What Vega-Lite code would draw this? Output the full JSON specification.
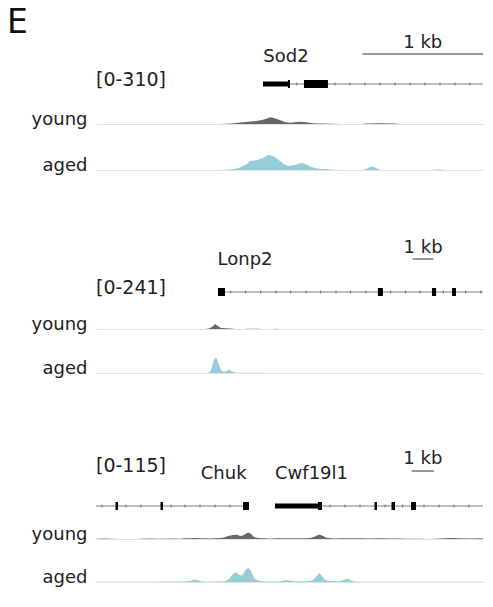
{
  "$schema": "https://vega.github.io/schema/vega-lite/v6.json",
  "padding": {"left": 7, "top": 7, "right": 10, "bottom": 10},
  "title": {"text": "E", "anchor": "start", "frame": "bounds", "fontSize": 33, "fontWeight": "normal", "font": "DejaVu Sans", "color": "#111", "dx": -24, "baseline": "alphabetic", "offset": -32},
  "config": {
    "view": {"stroke": null},
    "font": "DejaVu Sans",
    "text": {"font": "DejaVu Sans", "fontSize": 18, "color": "#222"}
  },
  "datasets": {
    "p1": [
      {"feature": "intron", "start": 1.386, "end": 3.212, "lane": "gene"},
      {"feature": "exon", "start": 1.386, "end": 1.593, "part": "UTR", "lane": "gene"},
      {"feature": "exon", "start": 1.593, "end": 1.61, "part": "CDS", "lane": "gene"},
      {"feature": "exon", "start": 1.726, "end": 1.925, "part": "CDS", "lane": "gene"},
      {"feature": "strand", "pos": 1.666, "lane": "gene"},
      {"feature": "strand", "pos": 1.983, "lane": "gene"},
      {"feature": "strand", "pos": 2.108, "lane": "gene"},
      {"feature": "strand", "pos": 2.232, "lane": "gene"},
      {"feature": "strand", "pos": 2.357, "lane": "gene"},
      {"feature": "strand", "pos": 2.481, "lane": "gene"},
      {"feature": "strand", "pos": 2.606, "lane": "gene"},
      {"feature": "strand", "pos": 2.73, "lane": "gene"},
      {"feature": "strand", "pos": 2.855, "lane": "gene"},
      {"feature": "strand", "pos": 2.979, "lane": "gene"},
      {"feature": "strand", "pos": 3.104, "lane": "gene"},
      {"feature": "scalebar", "start": 2.212, "end": 3.212, "lane": "top"},
      {"feature": "scalelabel", "pos": 2.712, "text": "1 kb", "lane": "top"},
      {"feature": "genename", "pos": 1.577, "text": "Sod2", "lane": "top"},
      {"feature": "range", "pos": 0, "text": "[0-310]", "lane": "gene"}
    ],
    "c1": [
      {"sample": "young", "pos": 1.021, "count": 0},
      {"sample": "young", "pos": 1.071, "count": 4},
      {"sample": "young", "pos": 1.129, "count": 7},
      {"sample": "young", "pos": 1.178, "count": 15},
      {"sample": "young", "pos": 1.22, "count": 21},
      {"sample": "young", "pos": 1.261, "count": 27},
      {"sample": "young", "pos": 1.303, "count": 33},
      {"sample": "young", "pos": 1.344, "count": 41},
      {"sample": "young", "pos": 1.386, "count": 53},
      {"sample": "young", "pos": 1.419, "count": 68},
      {"sample": "young", "pos": 1.444, "count": 83},
      {"sample": "young", "pos": 1.469, "count": 77},
      {"sample": "young", "pos": 1.502, "count": 62},
      {"sample": "young", "pos": 1.535, "count": 43},
      {"sample": "young", "pos": 1.568, "count": 25},
      {"sample": "young", "pos": 1.61, "count": 16},
      {"sample": "young", "pos": 1.651, "count": 22},
      {"sample": "young", "pos": 1.693, "count": 29},
      {"sample": "young", "pos": 1.726, "count": 25},
      {"sample": "young", "pos": 1.759, "count": 19},
      {"sample": "young", "pos": 1.801, "count": 9},
      {"sample": "young", "pos": 1.859, "count": 5},
      {"sample": "young", "pos": 1.967, "count": 4},
      {"sample": "young", "pos": 2.025, "count": 0},
      {"sample": "young", "pos": 2.207, "count": 0},
      {"sample": "young", "pos": 2.241, "count": 7},
      {"sample": "young", "pos": 2.357, "count": 9},
      {"sample": "young", "pos": 2.481, "count": 6},
      {"sample": "young", "pos": 2.523, "count": 0},
      {"sample": "aged", "pos": 1.021, "count": 0},
      {"sample": "aged", "pos": 1.071, "count": 4},
      {"sample": "aged", "pos": 1.154, "count": 12},
      {"sample": "aged", "pos": 1.195, "count": 31},
      {"sample": "aged", "pos": 1.22, "count": 50},
      {"sample": "aged", "pos": 1.253, "count": 74},
      {"sample": "aged", "pos": 1.278, "count": 112},
      {"sample": "aged", "pos": 1.311, "count": 118},
      {"sample": "aged", "pos": 1.336, "count": 124},
      {"sample": "aged", "pos": 1.361, "count": 136},
      {"sample": "aged", "pos": 1.386, "count": 149},
      {"sample": "aged", "pos": 1.411, "count": 167},
      {"sample": "aged", "pos": 1.427, "count": 186},
      {"sample": "aged", "pos": 1.452, "count": 180},
      {"sample": "aged", "pos": 1.469, "count": 174},
      {"sample": "aged", "pos": 1.494, "count": 149},
      {"sample": "aged", "pos": 1.527, "count": 112},
      {"sample": "aged", "pos": 1.56, "count": 74},
      {"sample": "aged", "pos": 1.593, "count": 50},
      {"sample": "aged", "pos": 1.627, "count": 56},
      {"sample": "aged", "pos": 1.651, "count": 62},
      {"sample": "aged", "pos": 1.685, "count": 81},
      {"sample": "aged", "pos": 1.71, "count": 87},
      {"sample": "aged", "pos": 1.734, "count": 74},
      {"sample": "aged", "pos": 1.751, "count": 62},
      {"sample": "aged", "pos": 1.776, "count": 43},
      {"sample": "aged", "pos": 1.801, "count": 31},
      {"sample": "aged", "pos": 1.842, "count": 19},
      {"sample": "aged", "pos": 1.876, "count": 12},
      {"sample": "aged", "pos": 1.917, "count": 12},
      {"sample": "aged", "pos": 1.967, "count": 4},
      {"sample": "aged", "pos": 2.025, "count": 0},
      {"sample": "aged", "pos": 2.207, "count": 0},
      {"sample": "aged", "pos": 2.241, "count": 12},
      {"sample": "aged", "pos": 2.274, "count": 37},
      {"sample": "aged", "pos": 2.299, "count": 43},
      {"sample": "aged", "pos": 2.324, "count": 25},
      {"sample": "aged", "pos": 2.357, "count": 4},
      {"sample": "aged", "pos": 2.39, "count": 0},
      {"sample": "aged", "pos": 2.797, "count": 0},
      {"sample": "aged", "pos": 2.822, "count": 6},
      {"sample": "aged", "pos": 2.871, "count": 6},
      {"sample": "aged", "pos": 2.896, "count": 0}
    ],
    "p2": [
      {"feature": "intron", "start": 5.894, "end": 18.696, "lane": "gene"},
      {"feature": "exon", "start": 5.894, "end": 6.232, "part": "CDS", "lane": "gene"},
      {"feature": "exon", "start": 13.62, "end": 13.86, "part": "CDS", "lane": "gene"},
      {"feature": "exon", "start": 16.23, "end": 16.43, "part": "CDS", "lane": "gene"},
      {"feature": "exon", "start": 17.2, "end": 17.39, "part": "CDS", "lane": "gene"},
      {"feature": "strand", "pos": 6.507, "lane": "gene"},
      {"feature": "strand", "pos": 7.232, "lane": "gene"},
      {"feature": "strand", "pos": 7.957, "lane": "gene"},
      {"feature": "strand", "pos": 8.696, "lane": "gene"},
      {"feature": "strand", "pos": 9.406, "lane": "gene"},
      {"feature": "strand", "pos": 10.145, "lane": "gene"},
      {"feature": "strand", "pos": 10.855, "lane": "gene"},
      {"feature": "strand", "pos": 11.594, "lane": "gene"},
      {"feature": "strand", "pos": 12.304, "lane": "gene"},
      {"feature": "strand", "pos": 13.043, "lane": "gene"},
      {"feature": "strand", "pos": 14.237, "lane": "gene"},
      {"feature": "strand", "pos": 14.961, "lane": "gene"},
      {"feature": "strand", "pos": 15.652, "lane": "gene"},
      {"feature": "strand", "pos": 16.778, "lane": "gene"},
      {"feature": "strand", "pos": 17.86, "lane": "gene"},
      {"feature": "strand", "pos": 18.585, "lane": "gene"},
      {"feature": "scalebar", "start": 15.3, "end": 16.3, "lane": "top"},
      {"feature": "scalelabel", "pos": 15.8, "text": "1 kb", "lane": "top"},
      {"feature": "genename", "pos": 7.198, "text": "Lonp2", "lane": "top"},
      {"feature": "range", "pos": 0, "text": "[0-241]", "lane": "gene"}
    ],
    "c2": [
      {"sample": "young", "pos": 5.266, "count": 0},
      {"sample": "young", "pos": 5.459, "count": 5},
      {"sample": "young", "pos": 5.604, "count": 19},
      {"sample": "young", "pos": 5.749, "count": 48},
      {"sample": "young", "pos": 5.894, "count": 29},
      {"sample": "young", "pos": 6.039, "count": 10},
      {"sample": "young", "pos": 6.28, "count": 7},
      {"sample": "young", "pos": 6.618, "count": 3},
      {"sample": "young", "pos": 6.763, "count": 0},
      {"sample": "young", "pos": 7.198, "count": 0},
      {"sample": "young", "pos": 7.343, "count": 3},
      {"sample": "young", "pos": 7.826, "count": 3},
      {"sample": "young", "pos": 7.971, "count": 0},
      {"sample": "young", "pos": 8.551, "count": 0},
      {"sample": "young", "pos": 8.647, "count": 3},
      {"sample": "young", "pos": 8.792, "count": 0},
      {"sample": "aged", "pos": 5.362, "count": 0},
      {"sample": "aged", "pos": 5.507, "count": 10},
      {"sample": "aged", "pos": 5.604, "count": 58},
      {"sample": "aged", "pos": 5.7, "count": 125},
      {"sample": "aged", "pos": 5.783, "count": 154},
      {"sample": "aged", "pos": 5.845, "count": 135},
      {"sample": "aged", "pos": 5.942, "count": 77},
      {"sample": "aged", "pos": 6.039, "count": 29},
      {"sample": "aged", "pos": 6.135, "count": 14},
      {"sample": "aged", "pos": 6.28, "count": 14},
      {"sample": "aged", "pos": 6.377, "count": 29},
      {"sample": "aged", "pos": 6.473, "count": 32},
      {"sample": "aged", "pos": 6.57, "count": 14},
      {"sample": "aged", "pos": 6.715, "count": 5},
      {"sample": "aged", "pos": 6.957, "count": 3},
      {"sample": "aged", "pos": 7.44, "count": 3},
      {"sample": "aged", "pos": 7.923, "count": 3},
      {"sample": "aged", "pos": 8.164, "count": 0}
    ],
    "p3": [
      {"feature": "intron", "start": 0, "end": 6.861, "lane": "gene"},
      {"feature": "intron", "start": 8.027, "end": 17.354, "lane": "gene"},
      {"feature": "exon", "start": 0.874, "end": 0.987, "part": "CDS", "lane": "gene"},
      {"feature": "exon", "start": 2.892, "end": 3.004, "part": "CDS", "lane": "gene"},
      {"feature": "exon", "start": 6.592, "end": 6.861, "part": "CDS", "lane": "gene"},
      {"feature": "exon", "start": 8.027, "end": 9.955, "part": "UTR", "lane": "gene"},
      {"feature": "exon", "start": 9.955, "end": 10.135, "part": "CDS", "lane": "gene"},
      {"feature": "exon", "start": 12.489, "end": 12.601, "part": "CDS", "lane": "gene"},
      {"feature": "exon", "start": 13.251, "end": 13.408, "part": "CDS", "lane": "gene"},
      {"feature": "exon", "start": 14.126, "end": 14.35, "part": "CDS", "lane": "gene"},
      {"feature": "strand", "pos": 0.269, "lane": "gene"},
      {"feature": "strand", "pos": 1.345, "lane": "gene"},
      {"feature": "strand", "pos": 2.018, "lane": "gene"},
      {"feature": "strand", "pos": 3.363, "lane": "gene"},
      {"feature": "strand", "pos": 3.991, "lane": "gene"},
      {"feature": "strand", "pos": 4.664, "lane": "gene"},
      {"feature": "strand", "pos": 5.336, "lane": "gene"},
      {"feature": "strand", "pos": 6.009, "lane": "gene"},
      {"feature": "strand", "pos": 10.493, "lane": "gene"},
      {"feature": "strand", "pos": 11.166, "lane": "gene"},
      {"feature": "strand", "pos": 11.839, "lane": "gene"},
      {"feature": "strand", "pos": 12.96, "lane": "gene"},
      {"feature": "strand", "pos": 13.753, "lane": "gene"},
      {"feature": "strand", "pos": 14.709, "lane": "gene"},
      {"feature": "strand", "pos": 15.381, "lane": "gene"},
      {"feature": "strand", "pos": 16.054, "lane": "gene"},
      {"feature": "strand", "pos": 16.726, "lane": "gene"},
      {"feature": "scalebar", "start": 14.157, "end": 15.157, "lane": "top"},
      {"feature": "scalelabel", "pos": 14.657, "text": "1 kb", "lane": "top"},
      {"feature": "genename", "pos": 5.726, "text": "Chuk", "lane": "top"},
      {"feature": "genename", "pos": 9.664, "text": "Cwf19l1", "lane": "top"},
      {"feature": "range", "pos": 0, "text": "[0-115]", "lane": "top"}
    ],
    "c3": [
      {"sample": "young", "pos": 0, "count": 1},
      {"sample": "young", "pos": 0.404, "count": 2},
      {"sample": "young", "pos": 0.717, "count": 1},
      {"sample": "young", "pos": 1.076, "count": 0},
      {"sample": "young", "pos": 1.883, "count": 0},
      {"sample": "young", "pos": 1.973, "count": 1},
      {"sample": "young", "pos": 2.422, "count": 2},
      {"sample": "young", "pos": 2.78, "count": 1},
      {"sample": "young", "pos": 3.543, "count": 2},
      {"sample": "young", "pos": 3.767, "count": 1},
      {"sample": "young", "pos": 3.991, "count": 3},
      {"sample": "young", "pos": 4.215, "count": 4},
      {"sample": "young", "pos": 4.439, "count": 5},
      {"sample": "young", "pos": 4.664, "count": 4},
      {"sample": "young", "pos": 4.888, "count": 3},
      {"sample": "young", "pos": 5.112, "count": 2},
      {"sample": "young", "pos": 5.336, "count": 3},
      {"sample": "young", "pos": 5.561, "count": 5},
      {"sample": "young", "pos": 5.74, "count": 7},
      {"sample": "young", "pos": 5.919, "count": 14},
      {"sample": "young", "pos": 6.143, "count": 18},
      {"sample": "young", "pos": 6.323, "count": 20},
      {"sample": "young", "pos": 6.457, "count": 14},
      {"sample": "young", "pos": 6.592, "count": 16},
      {"sample": "young", "pos": 6.771, "count": 28},
      {"sample": "young", "pos": 6.861, "count": 29},
      {"sample": "young", "pos": 6.951, "count": 23},
      {"sample": "young", "pos": 7.085, "count": 9},
      {"sample": "young", "pos": 7.265, "count": 5},
      {"sample": "young", "pos": 7.578, "count": 4},
      {"sample": "young", "pos": 7.803, "count": 1},
      {"sample": "young", "pos": 8.027, "count": 4},
      {"sample": "young", "pos": 8.475, "count": 3},
      {"sample": "young", "pos": 8.924, "count": 3},
      {"sample": "young", "pos": 9.372, "count": 4},
      {"sample": "young", "pos": 9.596, "count": 5},
      {"sample": "young", "pos": 9.776, "count": 9},
      {"sample": "young", "pos": 9.955, "count": 18},
      {"sample": "young", "pos": 10.045, "count": 20},
      {"sample": "young", "pos": 10.179, "count": 14},
      {"sample": "young", "pos": 10.314, "count": 7},
      {"sample": "young", "pos": 10.493, "count": 4},
      {"sample": "young", "pos": 10.717, "count": 2},
      {"sample": "young", "pos": 10.942, "count": 4},
      {"sample": "young", "pos": 11.39, "count": 4},
      {"sample": "young", "pos": 11.839, "count": 3},
      {"sample": "young", "pos": 12.287, "count": 2},
      {"sample": "young", "pos": 12.735, "count": 3},
      {"sample": "young", "pos": 13.184, "count": 2},
      {"sample": "young", "pos": 13.632, "count": 2},
      {"sample": "young", "pos": 14.081, "count": 1},
      {"sample": "young", "pos": 14.529, "count": 1},
      {"sample": "young", "pos": 14.978, "count": 0},
      {"sample": "young", "pos": 15.426, "count": 2},
      {"sample": "young", "pos": 15.874, "count": 5},
      {"sample": "young", "pos": 16.323, "count": 3},
      {"sample": "young", "pos": 16.771, "count": 2},
      {"sample": "young", "pos": 17.354, "count": 3},
      {"sample": "aged", "pos": 0, "count": 1},
      {"sample": "aged", "pos": 2.422, "count": 1},
      {"sample": "aged", "pos": 3.767, "count": 2},
      {"sample": "aged", "pos": 4.215, "count": 5},
      {"sample": "aged", "pos": 4.395, "count": 12},
      {"sample": "aged", "pos": 4.574, "count": 7},
      {"sample": "aged", "pos": 4.798, "count": 2},
      {"sample": "aged", "pos": 5.336, "count": 2},
      {"sample": "aged", "pos": 5.785, "count": 3},
      {"sample": "aged", "pos": 5.964, "count": 14},
      {"sample": "aged", "pos": 6.143, "count": 37},
      {"sample": "aged", "pos": 6.278, "count": 46},
      {"sample": "aged", "pos": 6.413, "count": 32},
      {"sample": "aged", "pos": 6.547, "count": 30},
      {"sample": "aged", "pos": 6.682, "count": 51},
      {"sample": "aged", "pos": 6.816, "count": 66},
      {"sample": "aged", "pos": 6.951, "count": 51},
      {"sample": "aged", "pos": 7.085, "count": 18},
      {"sample": "aged", "pos": 7.265, "count": 7},
      {"sample": "aged", "pos": 7.489, "count": 4},
      {"sample": "aged", "pos": 7.803, "count": 2},
      {"sample": "aged", "pos": 8.251, "count": 4},
      {"sample": "aged", "pos": 8.475, "count": 8},
      {"sample": "aged", "pos": 8.7, "count": 7},
      {"sample": "aged", "pos": 8.924, "count": 4},
      {"sample": "aged", "pos": 9.372, "count": 4},
      {"sample": "aged", "pos": 9.686, "count": 7},
      {"sample": "aged", "pos": 9.865, "count": 23},
      {"sample": "aged", "pos": 10.013, "count": 43},
      {"sample": "aged", "pos": 10.135, "count": 28},
      {"sample": "aged", "pos": 10.269, "count": 9},
      {"sample": "aged", "pos": 10.493, "count": 5},
      {"sample": "aged", "pos": 10.942, "count": 4},
      {"sample": "aged", "pos": 11.121, "count": 9},
      {"sample": "aged", "pos": 11.287, "count": 15},
      {"sample": "aged", "pos": 11.435, "count": 7},
      {"sample": "aged", "pos": 11.614, "count": 2},
      {"sample": "aged", "pos": 12.063, "count": 1},
      {"sample": "aged", "pos": 13.632, "count": 1},
      {"sample": "aged", "pos": 17.354, "count": 1}
    ]
  },
  "spacing": 73,
  "vconcat": [
    {
      "spacing": 65,
      "vconcat": [
        {
          "bounds": "flush",
          "spacing": 15,
          "vconcat": [
            {
              "width": 387, "height": 30,
              "data": {"name": "p1"},
              "layer": [
                {"transform": [{"filter": "datum.feature === 'intron'"}], "mark": {"type": "rule", "color": "#808080", "strokeWidth": 1},
                 "encoding": {"x": {"field": "start", "type": "quantitative", "scale": {"domain": [0, 3.212], "nice": false, "zero": false}, "axis": null}, "x2": {"field": "end"}, "y": {"field": "lane", "type": "nominal", "scale": {"type": "point", "domain": ["top", "gene"], "padding": 0}, "axis": null}}},
                {"transform": [{"filter": "datum.feature === 'strand'"}], "mark": {"type": "tick", "orient": "vertical", "size": 3, "thickness": 1, "color": "#444"},
                 "encoding": {"x": {"field": "pos", "type": "quantitative"}, "y": {"field": "lane", "type": "nominal"}}},
                {"transform": [{"filter": "datum.feature === 'exon'"}], "mark": {"type": "rule", "color": "#000", "strokeCap": "butt"},
                 "encoding": {"x": {"field": "start", "type": "quantitative"}, "x2": {"field": "end"}, "y": {"field": "lane", "type": "nominal"}, "strokeWidth": {"field": "part", "type": "nominal", "scale": {"domain": ["UTR", "CDS"], "range": [5, 8]}, "legend": null}}},
                {"transform": [{"filter": "datum.feature === 'scalebar'"}], "mark": {"type": "rule", "color": "#333", "strokeWidth": 1},
                 "encoding": {"x": {"field": "start", "type": "quantitative"}, "x2": {"field": "end"}, "y": {"field": "lane", "type": "nominal"}}},
                {"transform": [{"filter": "datum.feature === 'scalelabel'"}], "mark": {"type": "text", "align": "center", "baseline": "alphabetic", "dy": -6},
                 "encoding": {"x": {"field": "pos", "type": "quantitative"}, "y": {"field": "lane", "type": "nominal"}, "text": {"field": "text"}}},
                {"transform": [{"filter": "datum.feature === 'genename'"}], "mark": {"type": "text", "align": "center", "baseline": "alphabetic", "dy": 8},
                 "encoding": {"x": {"field": "pos", "type": "quantitative"}, "y": {"field": "lane", "type": "nominal"}, "text": {"field": "text"}}},
                {"transform": [{"filter": "datum.feature === 'range'"}], "mark": {"type": "text", "align": "left", "baseline": "middle", "dy": -4, "dx": 0, "fontSize": 19},
                 "encoding": {"x": {"field": "pos", "type": "quantitative"}, "y": {"field": "lane", "type": "nominal"}, "text": {"field": "text"}}}
              ]
            },
            {
              "width": 387, "height": 25,
              "data": {"name": "c1"},
              "transform": [{"filter": "datum.sample === 'young'"}],
              "mark": {"type": "area", "color": "#676767"},
              "encoding": {
                "x": {"field": "pos", "type": "quantitative", "scale": {"domain": [0, 3.212], "nice": false, "zero": false}, "axis": {"labels": false, "ticks": false, "grid": false, "title": null, "domainColor": "#e2e2e2"}},
                "y": {"field": "count", "type": "quantitative", "scale": {"domain": [0, 310], "nice": false}, "axis": {"title": "young", "titleAngle": 0, "titleAlign": "right", "titleBaseline": "alphabetic", "titleX": -9, "titleY": 25, "labels": false, "ticks": false, "domain": false, "grid": false, "titleFont": "DejaVu Sans", "titleFontSize": 18, "titleFontWeight": "normal", "titleColor": "#222"}}
              }
            },
            {
              "width": 387, "height": 31,
              "data": {"name": "c1"},
              "transform": [{"filter": "datum.sample === 'aged'"}],
              "mark": {"type": "area", "color": "#96cdd9"},
              "encoding": {
                "x": {"field": "pos", "type": "quantitative", "scale": {"domain": [0, 3.212], "nice": false, "zero": false}, "axis": {"labels": false, "ticks": false, "grid": false, "title": null, "domainColor": "#e2e2e2"}},
                "y": {"field": "count", "type": "quantitative", "scale": {"domain": [0, 384.4], "nice": false}, "axis": {"title": "aged", "titleAngle": 0, "titleAlign": "right", "titleBaseline": "alphabetic", "titleX": -9, "titleY": 31, "labels": false, "ticks": false, "domain": false, "grid": false, "titleFont": "DejaVu Sans", "titleFontSize": 18, "titleFontWeight": "normal", "titleColor": "#222"}}
              }
            }
          ]
        },
        {
          "bounds": "flush",
          "spacing": 12,
          "vconcat": [
            {
              "width": 387, "height": 33,
              "data": {"name": "p2"},
              "layer": [
                {"transform": [{"filter": "datum.feature === 'intron'"}], "mark": {"type": "rule", "color": "#808080", "strokeWidth": 1},
                 "encoding": {"x": {"field": "start", "type": "quantitative", "scale": {"domain": [0, 18.696], "nice": false, "zero": false}, "axis": null}, "x2": {"field": "end"}, "y": {"field": "lane", "type": "nominal", "scale": {"type": "point", "domain": ["top", "gene"], "padding": 0}, "axis": null}}},
                {"transform": [{"filter": "datum.feature === 'strand'"}], "mark": {"type": "tick", "orient": "vertical", "size": 3, "thickness": 1, "color": "#444"},
                 "encoding": {"x": {"field": "pos", "type": "quantitative"}, "y": {"field": "lane", "type": "nominal"}}},
                {"transform": [{"filter": "datum.feature === 'exon'"}], "mark": {"type": "rule", "color": "#000", "strokeCap": "butt"},
                 "encoding": {"x": {"field": "start", "type": "quantitative"}, "x2": {"field": "end"}, "y": {"field": "lane", "type": "nominal"}, "strokeWidth": {"field": "part", "type": "nominal", "scale": {"domain": ["UTR", "CDS"], "range": [5, 8]}, "legend": null}}},
                {"transform": [{"filter": "datum.feature === 'scalebar'"}], "mark": {"type": "rule", "color": "#333", "strokeWidth": 1},
                 "encoding": {"x": {"field": "start", "type": "quantitative"}, "x2": {"field": "end"}, "y": {"field": "lane", "type": "nominal"}}},
                {"transform": [{"filter": "datum.feature === 'scalelabel'"}], "mark": {"type": "text", "align": "center", "baseline": "alphabetic", "dy": -6},
                 "encoding": {"x": {"field": "pos", "type": "quantitative"}, "y": {"field": "lane", "type": "nominal"}, "text": {"field": "text"}}},
                {"transform": [{"filter": "datum.feature === 'genename'"}], "mark": {"type": "text", "align": "center", "baseline": "alphabetic", "dy": 6},
                 "encoding": {"x": {"field": "pos", "type": "quantitative"}, "y": {"field": "lane", "type": "nominal"}, "text": {"field": "text"}}},
                {"transform": [{"filter": "datum.feature === 'range'"}], "mark": {"type": "text", "align": "left", "baseline": "middle", "dy": -4, "dx": 0, "fontSize": 19},
                 "encoding": {"x": {"field": "pos", "type": "quantitative"}, "y": {"field": "lane", "type": "nominal"}, "text": {"field": "text"}}}
              ]
            },
            {
              "width": 387, "height": 25,
              "data": {"name": "c2"},
              "transform": [{"filter": "datum.sample === 'young'"}],
              "mark": {"type": "area", "color": "#676767"},
              "encoding": {
                "x": {"field": "pos", "type": "quantitative", "scale": {"domain": [0, 18.696], "nice": false, "zero": false}, "axis": {"labels": false, "ticks": false, "grid": false, "title": null, "domainColor": "#e2e2e2"}},
                "y": {"field": "count", "type": "quantitative", "scale": {"domain": [0, 241], "nice": false}, "axis": {"title": "young", "titleAngle": 0, "titleAlign": "right", "titleBaseline": "alphabetic", "titleX": -9, "titleY": 25, "labels": false, "ticks": false, "domain": false, "grid": false, "titleFont": "DejaVu Sans", "titleFontSize": 18, "titleFontWeight": "normal", "titleColor": "#222"}}
              }
            },
            {
              "width": 387, "height": 32,
              "data": {"name": "c2"},
              "transform": [{"filter": "datum.sample === 'aged'"}],
              "mark": {"type": "area", "color": "#96cdd9"},
              "encoding": {
                "x": {"field": "pos", "type": "quantitative", "scale": {"domain": [0, 18.696], "nice": false, "zero": false}, "axis": {"labels": false, "ticks": false, "grid": false, "title": null, "domainColor": "#e2e2e2"}},
                "y": {"field": "count", "type": "quantitative", "scale": {"domain": [0, 308.5], "nice": false}, "axis": {"title": "aged", "titleAngle": 0, "titleAlign": "right", "titleBaseline": "alphabetic", "titleX": -9, "titleY": 32, "labels": false, "ticks": false, "domain": false, "grid": false, "titleFont": "DejaVu Sans", "titleFontSize": 18, "titleFontWeight": "normal", "titleColor": "#222"}}
              }
            }
          ]
        }
      ]
    },
    {
      "bounds": "flush",
      "spacing": 8,
      "vconcat": [
        {
          "width": 387, "height": 35,
          "data": {"name": "p3"},
          "layer": [
            {"transform": [{"filter": "datum.feature === 'intron'"}], "mark": {"type": "rule", "color": "#808080", "strokeWidth": 1},
             "encoding": {"x": {"field": "start", "type": "quantitative", "scale": {"domain": [0, 17.354], "nice": false, "zero": false}, "axis": null}, "x2": {"field": "end"}, "y": {"field": "lane", "type": "nominal", "scale": {"type": "point", "domain": ["top", "gene"], "padding": 0}, "axis": null}}},
            {"transform": [{"filter": "datum.feature === 'strand'"}], "mark": {"type": "tick", "orient": "vertical", "size": 3, "thickness": 1, "color": "#444"},
             "encoding": {"x": {"field": "pos", "type": "quantitative"}, "y": {"field": "lane", "type": "nominal"}}},
            {"transform": [{"filter": "datum.feature === 'exon'"}], "mark": {"type": "rule", "color": "#000", "strokeCap": "butt"},
             "encoding": {"x": {"field": "start", "type": "quantitative"}, "x2": {"field": "end"}, "y": {"field": "lane", "type": "nominal"}, "strokeWidth": {"field": "part", "type": "nominal", "scale": {"domain": ["UTR", "CDS"], "range": [5, 8]}, "legend": null}}},
            {"transform": [{"filter": "datum.feature === 'scalebar'"}], "mark": {"type": "rule", "color": "#333", "strokeWidth": 1},
             "encoding": {"x": {"field": "start", "type": "quantitative"}, "x2": {"field": "end"}, "y": {"field": "lane", "type": "nominal"}}},
            {"transform": [{"filter": "datum.feature === 'scalelabel'"}], "mark": {"type": "text", "align": "center", "baseline": "alphabetic", "dy": -7},
             "encoding": {"x": {"field": "pos", "type": "quantitative"}, "y": {"field": "lane", "type": "nominal"}, "text": {"field": "text"}}},
            {"transform": [{"filter": "datum.feature === 'genename'"}], "mark": {"type": "text", "align": "center", "baseline": "alphabetic", "dy": 8},
             "encoding": {"x": {"field": "pos", "type": "quantitative"}, "y": {"field": "lane", "type": "nominal"}, "text": {"field": "text"}}},
            {"transform": [{"filter": "datum.feature === 'range'"}], "mark": {"type": "text", "align": "left", "baseline": "middle", "dy": -5, "dx": 0, "fontSize": 19},
             "encoding": {"x": {"field": "pos", "type": "quantitative"}, "y": {"field": "lane", "type": "nominal"}, "text": {"field": "text"}}}
          ]
        },
        {
          "width": 387, "height": 25,
          "data": {"name": "c3"},
          "transform": [{"filter": "datum.sample === 'young'"}],
          "mark": {"type": "area", "color": "#676767"},
          "encoding": {
            "x": {"field": "pos", "type": "quantitative", "scale": {"domain": [0, 17.354], "nice": false, "zero": false}, "axis": {"labels": false, "ticks": false, "grid": false, "title": null, "domainColor": "#e2e2e2"}},
            "y": {"field": "count", "type": "quantitative", "scale": {"domain": [0, 115], "nice": false}, "axis": {"title": "young", "titleAngle": 0, "titleAlign": "right", "titleBaseline": "alphabetic", "titleX": -9, "titleY": 25, "labels": false, "ticks": false, "domain": false, "grid": false, "titleFont": "DejaVu Sans", "titleFontSize": 18, "titleFontWeight": "normal", "titleColor": "#222"}}
          }
        },
        {
          "width": 387, "height": 35,
          "data": {"name": "c3"},
          "transform": [{"filter": "datum.sample === 'aged'"}],
          "mark": {"type": "area", "color": "#96cdd9"},
          "encoding": {
            "x": {"field": "pos", "type": "quantitative", "scale": {"domain": [0, 17.354], "nice": false, "zero": false}, "axis": {"labels": false, "ticks": false, "grid": false, "title": null, "domainColor": "#e2e2e2"}},
            "y": {"field": "count", "type": "quantitative", "scale": {"domain": [0, 161], "nice": false}, "axis": {"title": "aged", "titleAngle": 0, "titleAlign": "right", "titleBaseline": "alphabetic", "titleX": -9, "titleY": 35, "labels": false, "ticks": false, "domain": false, "grid": false, "titleFont": "DejaVu Sans", "titleFontSize": 18, "titleFontWeight": "normal", "titleColor": "#222"}}
          }
        }
      ]
    }
  ]
}
